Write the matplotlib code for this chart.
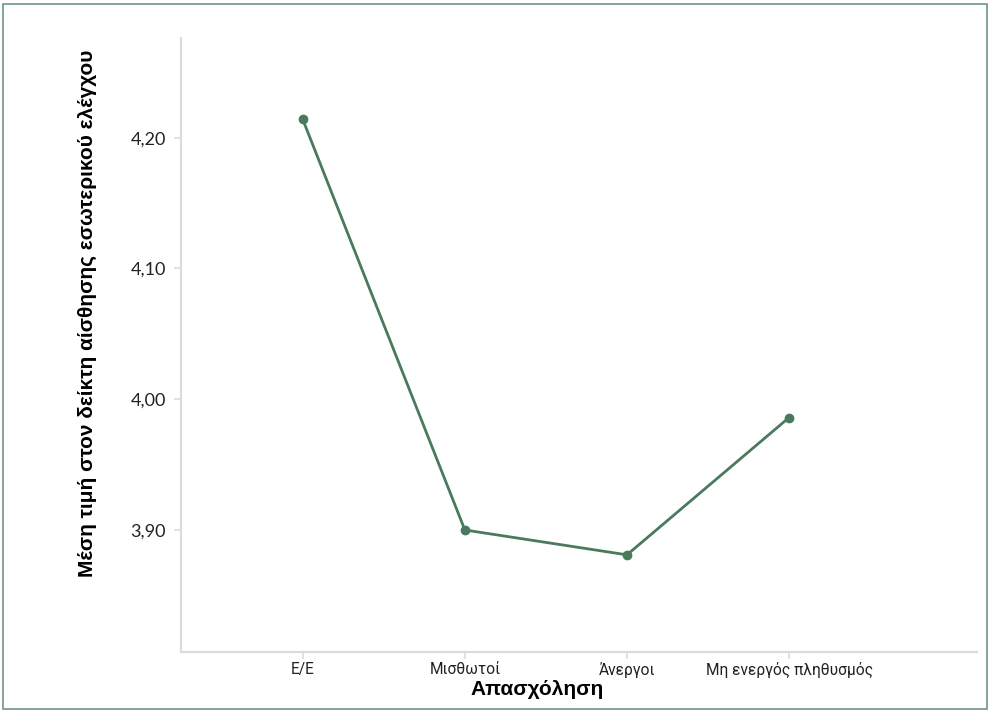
import matplotlib.pyplot as plt
from matplotlib.patches import Rectangle
from matplotlib.ticker import FuncFormatter

categories = ["Ε/Ε", "Μισθωτοί", "Άνεργοι", "Μη ενεργός πληθυσμός"]
mean_values = [4.214, 3.900, 3.881, 3.986]
y_ticks = [3.90, 4.00, 4.10, 4.20]

line_color = "#4a7a5e"
axis_color = "#dcdcdc"

fig = plt.figure(figsize=(9.9, 7.11), dpi=100)
ax = fig.add_axes([0.183, 0.083, 0.804, 0.864])

x = list(range(len(categories)))
ax.plot(x, mean_values, color=line_color, linewidth=2, marker="o",
        markersize=6, markerfacecolor=line_color, markeredgecolor=line_color)

ax.set_xlim(-0.75, 4.16)
ax.set_ylim(3.8067, 4.2765)
ax.set_xticks(x)
ax.set_xticklabels(categories, fontsize=11.2, family="Roboto")
ax.set_yticks(y_ticks)
ax.yaxis.set_major_formatter(FuncFormatter(lambda v, p: f"{v:.2f}".replace(".", ",")))
for lbl in ax.get_yticklabels():
    lbl.set_fontsize(13)
    lbl.set_family("Lato")

for side in ["top", "right"]:
    ax.spines[side].set_visible(False)
for side in ["left", "bottom"]:
    ax.spines[side].set_color(axis_color)
    ax.spines[side].set_linewidth(1.6)
ax.tick_params(axis="both", colors=axis_color, length=5, width=1.2, labelcolor="#222222")
ax.tick_params(axis="y", pad=6)
ax.tick_params(axis="x", pad=2)

ax.set_xlabel("Απασχόληση", fontsize=15, fontweight="bold", family="Liberation Sans")
ax.set_ylabel("Μέση τιμή στον δείκτη αίσθησης εσωτερικού ελέγχου", fontsize=15,
              fontweight="bold", family="Liberation Sans")
ax.xaxis.set_label_coords(0.447, -0.046)
ax.yaxis.set_label_coords(-0.106, 0.552)

# thin frame around the whole figure
fig.patches.append(Rectangle((0.003, 0.003), 0.994, 0.992, transform=fig.transFigure,
                             fill=False, edgecolor="#6f9484", linewidth=1.2))

fig.savefig("out.png", dpi=100)
